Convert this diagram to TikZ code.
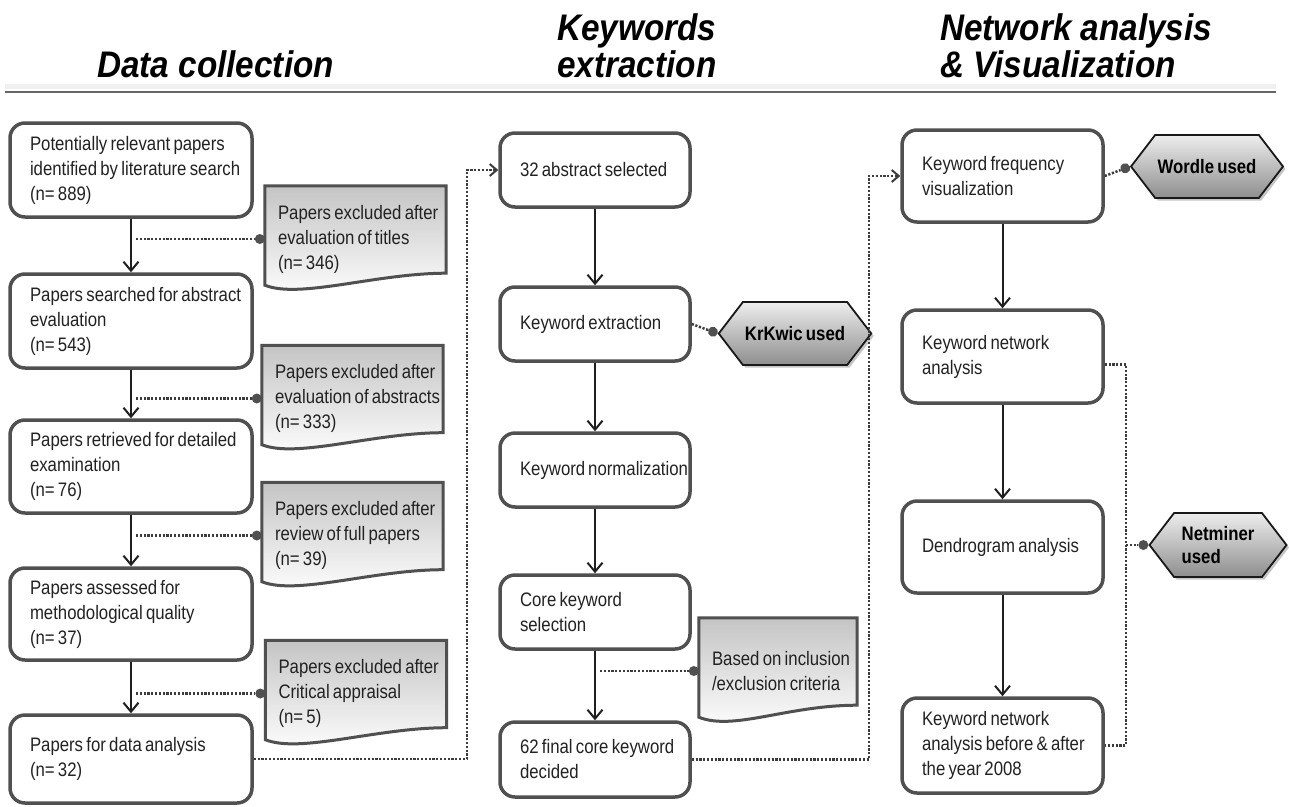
\documentclass[tikz,border=0pt]{standalone}
\usepackage{fontspec}
\setmainfont{Liberation Sans}[FakeStretch=0.9]
\newfontfamily\boxfamily{Liberation Sans}[FakeStretch=0.86, WordSpace=0.7]
\usetikzlibrary{arrows.meta,shapes.symbols,shadows,backgrounds,calc}

\definecolor{boxline}{HTML}{505050}
\definecolor{dotgray}{HTML}{3C3C3C}
\definecolor{docgray}{HTML}{C4C4C4}
\definecolor{hexdark}{HTML}{8E8E8E}
\definecolor{textgray}{HTML}{222222}

\newcommand\boxfont{\boxfamily\fontsize{19.5}{25}\selectfont\color{textgray}}
\newcommand\headfont{\fontsize{37}{40}\selectfont\bfseries\itshape}

\tikzset{
  headtext/.style={font=\headfont, anchor=base west, inner sep=0pt},
  procbox/.style={draw=boxline, line width=3.5pt, rounded corners=15pt, fill=white,
    inner xsep=0pt, align=flush left, font=\boxfont,
    execute at begin node={\leftskip=18pt}},
  leftbox/.style={procbox, minimum width=242pt, minimum height=93pt, text width=238pt},
  midbox/.style={procbox, minimum width=190pt, minimum height=74pt, text width=186pt},
  rightbox/.style={procbox, minimum width=201pt, minimum height=93pt, text width=197pt},
  notebox/.style={minimum width=181pt, minimum height=106pt, text width=179pt,
    inner xsep=0pt, align=flush left, font=\boxfont,
    execute at begin node={\leftskip=12pt}},
  notepaper/.style={draw=boxline, line width=3pt, top color=docgray, bottom color=white},
  toolbox/.style={signal, signal to=west and east, signal pointer angle=105,
    draw=black!90, line width=1.8pt, top color=white!93!black, bottom color=hexdark,
    drop shadow={shadow xshift=2.5pt, shadow yshift=-2.5pt, opacity=0.45},
    inner sep=2pt, align=left, font=\boxfamily\fontsize{19.5}{23}\selectfont\bfseries},
  flowarrow/.style={draw=black!88, line width=2pt,
    -{Straight Barb[length=9pt,width=15pt,line width=2pt]}},
  dotlink/.style={draw=dotgray, line width=2.5pt, dash pattern=on 2.2pt off 1.6pt},
  dotend/.style={dotlink, -{Circle[length=10pt,fill=boxline,line width=0pt]}},
  dotarrow/.style={dotlink, -{Straight Barb[length=7pt,width=12pt,line width=2pt]}}
}

\begin{document}
\begin{tikzpicture}[x=1pt, y=-1pt]
  \useasboundingbox (0,0) rectangle (1289,806);

  % Encabezados
  \node[headtext] (h1) at (97,77) {Data collection};
  \node[headtext] (h2a) at (557,40) {Keywords};
  \node[headtext] (h2b) at (557,77) {extraction};
  \node[headtext] (h3a) at (940,40) {Network analysis};
  \node[headtext] (h3b) at (940,77) {\& Visualization};
  \draw[line width=5pt, black!6] (5,86) -- (1276,86);
  \draw[line width=1.8pt, black!60] (5,92) -- (1276,92);

  % Columna 1
  \node[leftbox, minimum height=94pt] (p1) at (131,170) {Potentially relevant papers\\identified by literature search\\(n= 889)};
  \node[leftbox, minimum height=94pt] (p2) at (131,321) {Papers searched for abstract\\evaluation\\(n= 543)};
  \node[leftbox] (p3) at (131,466.5) {Papers retrieved for detailed\\examination\\(n= 76)};
  \node[leftbox, minimum height=92pt] (p4) at (131,614) {Papers assessed for\\methodological quality\\(n= 37)};
  \node[leftbox, minimum height=88pt] (p5) at (131,759) {Papers for data analysis\\(n= 32)};

  \node[notebox] (d1) at (355.5,239) {Papers excluded after\\evaluation of titles\\(n= 346)};
  \node[notebox] (d2) at (352.5,398.5) {Papers excluded after\\evaluation of abstracts\\(n= 333)};
  \node[notebox] (d3) at (352.5,535.5) {Papers excluded after\\review of full papers\\(n= 39)};
  \node[notebox] (d4) at (356,693.5) {Papers excluded after\\Critical appraisal\\(n= 5)};

  % Columna 2
  \node[midbox] (m1) at (595,170) {32 abstract selected};
  \node[midbox] (m2) at (595,324) {Keyword extraction};
  \node[midbox] (m3) at (595,470) {Keyword normalization};
  \node[midbox] (m4) at (595,612) {Core keyword\\selection};
  \node[midbox, minimum height=75pt] (m5) at (595,759.5) {62 final core keyword\\decided};
  \node[notebox, minimum width=158pt, text width=156pt] (dm) at (778,671) {Based on inclusion\\/exclusion criteria};
  \node[toolbox, minimum width=136pt, minimum height=63pt] (kr) at (795,333.5) {KrKwic used};

  % Columna 3
  \node[rightbox, minimum height=92pt] (r1) at (1002.5,176) {Keyword frequency\\visualization};
  \node[rightbox] (r2) at (1002.5,356.5) {Keyword network\\analysis};
  \node[rightbox, minimum height=92pt] (r3) at (1002.5,547) {Dendrogram analysis};
  \node[rightbox, minimum height=95pt] (r4) at (1002.5,745.5) {Keyword network\\analysis before \& after\\the year 2008};
  \node[toolbox, minimum width=152pt, minimum height=63pt] (wd) at (1207,166.5) {Wordle used};
  \node[toolbox, minimum width=137pt, minimum height=64pt] (nm) at (1218,545) {Netminer\\used};

  % Hojas de notas (fondo)
  \begin{scope}[on background layer]
    \foreach \d in {d1,d2,d3,d4,dm}
      \draw[notepaper] (\d.north west) -- (\d.north east) -- ($(\d.south east)+(0,-19)$)
        .. controls +(-70,0) and +(35,14) .. ($(\d.south west)+(0,-7)$) -- cycle;
  \end{scope}

  % Flechas principales
  \foreach \a/\b in {p1/p2,p2/p3,p3/p4,p4/p5,m1/m2,m2/m3,m3/m4,m4/m5,r1/r2,r2/r3,r3/r4}
    \draw[flowarrow] (\a.south) -- (\b.north);

  % Enlaces punteados
  \foreach \a/\d in {p1/d1,p2/d2,p3/d3,p4/d4,m4/dm}
    \draw[dotend, shorten <=5pt] (\d.west -| \a.south) -- (\d.west);
  \draw[dotend] (m2.east) -- (kr.west);
  \draw[dotend] (r1.east) -- (wd.west);

  \coordinate (c1) at (467,0);
  \coordinate (c2) at (869,0);
  \coordinate (c3) at (1126,0);
  \draw[dotarrow] (p5.east) -- (p5.east -| c1) -- (c1 |- m1.west) -- (m1.west);
  \draw[dotarrow] (m5.east) -- (m5.east -| c2) -- (c2 |- r1.west) -- (r1.west);
  \draw[dotlink] ($(r2.east)+(0,8)$) -- ($(r2.east -| c3)+(0,8)$) -- (c3 |- r4.east) -- (r4.east);
  \draw[dotend] (c3 |- nm.west) -- (nm.west);
\end{tikzpicture}
\end{document}
